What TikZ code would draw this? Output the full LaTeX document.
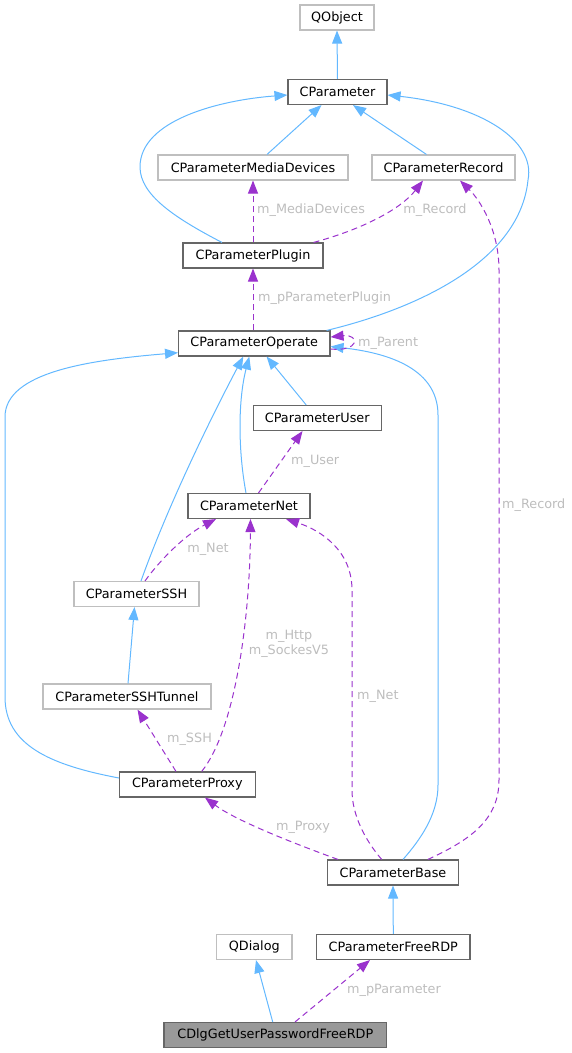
\documentclass[tikz,border=0pt]{standalone}
\usepackage{fontspec}
\setmainfont{DejaVu Sans}
\usetikzlibrary{arrows.meta}
\definecolor{inhblue}{HTML}{63B8FF}
\definecolor{usepurple}{HTML}{9A32CD}
\definecolor{darkbd}{HTML}{666666}
\definecolor{lightbd}{HTML}{BFBFBF}
\definecolor{lblgray}{HTML}{BDBDBD}
\definecolor{rootfill}{HTML}{999999}
\tikzset{
  cls/.style={draw=darkbd, line width=1.1pt, fill=white, minimum height=25pt, inner sep=0pt, font=\fontsize{12.8pt}{15pt}\selectfont},
  ucls/.style={cls, draw=lightbd},
  rootcls/.style={cls, fill=rootfill},
  inh/.style={draw=inhblue, line width=1pt, -{Triangle[length=13pt,width=10pt,color=inhblue]}},
  useedge/.style={draw=usepurple, line width=1pt, dash pattern=on 6pt off 4pt, -{Triangle[length=13pt,width=10pt,color=usepurple]}},
  lbl/.style={text=lblgray, inner sep=0pt, font=\fontsize{12.8pt}{14.5pt}\selectfont}
}
\begin{document}
\begin{tikzpicture}[x=1pt,y=-1pt]
\useasboundingbox (0,0) rectangle (572,1053);
% nodes
\node[ucls, minimum width=74pt] (qobject) at (337,17.5) {QObject};
\node[cls, minimum width=99pt] (cparameter) at (337.5,92) {CParameter};
\node[ucls, minimum width=190pt] (media) at (253,167.5) {CParameterMediaDevices};
\node[ucls, minimum width=143pt] (record) at (443.5,167.5) {CParameterRecord};
\node[cls, minimum width=140pt] (plugin) at (253,255.5) {CParameterPlugin};
\node[cls, minimum width=151.4pt] (operate) at (254.3,343.5) {CParameterOperate};
\node[cls, minimum width=128pt] (user) at (317.2,418) {CParameterUser};
\node[cls, minimum width=122pt] (net) at (249,506) {CParameterNet};
\node[ucls, minimum width=125pt] (ssh) at (136.5,594) {CParameterSSH};
\node[ucls, minimum width=168pt] (tunnel) at (127,696.5) {CParameterSSHTunnel};
\node[cls, minimum width=135.5pt] (proxy) at (187.3,784.5) {CParameterProxy};
\node[cls, minimum width=130.6pt] (base) at (393,872.5) {CParameterBase};
\node[ucls, minimum width=75.3pt] (qdialog) at (254.3,947) {QDialog};
\node[cls, minimum width=153.3pt] (freerdp) at (393.3,947) {CParameterFreeRDP};
\node[rootcls, minimum width=222.7pt] (dlg) at (275.3,1035) {CDlgGetUserPasswordFreeRDP};
% inheritance
\draw[inh] (cparameter.north) -- (qobject.south);
\draw[inh] ([xshift=14pt]media.north) -- ([xshift=-16pt]cparameter.south);
\draw[inh] ([xshift=-17pt]record.north) -- ([xshift=15.5pt]cparameter.south);
\draw[inh] ([xshift=-31pt]plugin.north) .. controls (175,218) and (140,195) .. (140,167) .. controls (140,120) and (220,100) .. ([yshift=-3pt]cparameter.west);
\draw[inh] ([xshift=-4pt]operate.north east) .. controls (420,308) and (520,260) .. (528,180) .. controls (536,140) and (480,105) .. ([yshift=-3pt]cparameter.east);
\draw[inh] ([xshift=-11pt]user.north) -- ([xshift=12.3pt]operate.south);
\draw[inh] ([xshift=-3pt]net.north) .. controls (238,450) and (238,400) .. ([xshift=-5pt]operate.south);
\draw[inh] ([xshift=4.5pt]ssh.north) .. controls (170,500) and (215,410) .. ([xshift=-11pt]operate.south);
\draw[inh] ([yshift=6.5pt]proxy.west) .. controls (50,765) and (5,745) .. (5,697) -- (5,417) .. controls (5,372) and (90,360) .. ([yshift=-9.2pt]operate.west);
\draw[inh] ([xshift=10pt]base.north) .. controls (420,840) and (438,815) .. (438,785) -- (438,415) .. controls (438,365) and (380,352) .. ([yshift=-3pt]operate.east);
\draw[inh] ([xshift=1pt]tunnel.north) -- ([xshift=-2pt]ssh.south);
\draw[inh] (freerdp.north) -- (base.south);
\draw[inh] ([xshift=-2.6pt]dlg.north) -- ([xshift=1.7pt]qdialog.south);
% usage
\draw[useedge] (plugin.north) -- (media.south);
\node[lbl, anchor=west] (lmedia) at (257,210) {m\_MediaDevices};
\draw[useedge] ([xshift=-10pt]plugin.north east) .. controls (360,230) and (400,210) .. ([xshift=-20.5pt]record.south);
\node[lbl] (lrec1) at (435,210) {m\_Record};
\draw[useedge] ([xshift=-31pt]base.north east) .. controls (470,840) and (499,820) .. (499,780) -- (499,270) .. controls (499,230) and (480,200) .. ([xshift=16.5pt]record.south);
\node[lbl, anchor=west] (lrec2) at (502,505) {m\_Record};
\draw[useedge] ([xshift=-1.3pt]operate.north) -- (plugin.south);
\node[lbl, anchor=west] (lplug) at (258,298) {m\_pParameterPlugin};
\draw[useedge] ([yshift=-5.5pt]operate.east) .. controls (360,352) and (360,334) .. ([yshift=6.5pt]operate.east);
\node[lbl, anchor=west] (lpar) at (358,343) {m\_Parent};
\draw[useedge] ([xshift=9.5pt]net.north) -- ([xshift=-14.7pt]user.south);
\node[lbl, anchor=west] (luser) at (291,461) {m\_User};
\draw[useedge] ([xshift=8.5pt]ssh.north) .. controls (160,560) and (185,535) .. ([xshift=-33pt]net.south);
\node[lbl] (lnet1) at (208,549) {m\_Net};
\draw[useedge] ([xshift=14.4pt]proxy.north) .. controls (235,730) and (250,620) .. ([xshift=1.5pt]net.south);
\node[lbl, align=center] (lhttp) at (289,644) {m\_Http\\m\_SockesV5};
\draw[useedge] ([xshift=-11.3pt]base.north) .. controls (365,840) and (352,815) .. (352,790) -- (352,590) .. controls (352,550) and (320,530) .. ([xshift=37pt]net.south);
\node[lbl, anchor=west] (lnet2) at (357,696) {m\_Net};
\draw[useedge] ([xshift=-11.3pt]proxy.north) -- ([xshift=10.5pt]tunnel.south);
\node[lbl] (lssh) at (189.5,739) {m\_SSH};
\draw[useedge] ([xshift=-55pt]base.north) .. controls (290,842) and (235,820) .. ([xshift=17.7pt]proxy.south);
\node[lbl] (lproxy) at (303,827) {m\_Proxy};
\draw[useedge] ([xshift=19.7pt]dlg.north) -- ([xshift=-23.3pt]freerdp.south);
\node[lbl] (lparam) at (394,990.7) {m\_pParameter};
\end{tikzpicture}
\end{document}
